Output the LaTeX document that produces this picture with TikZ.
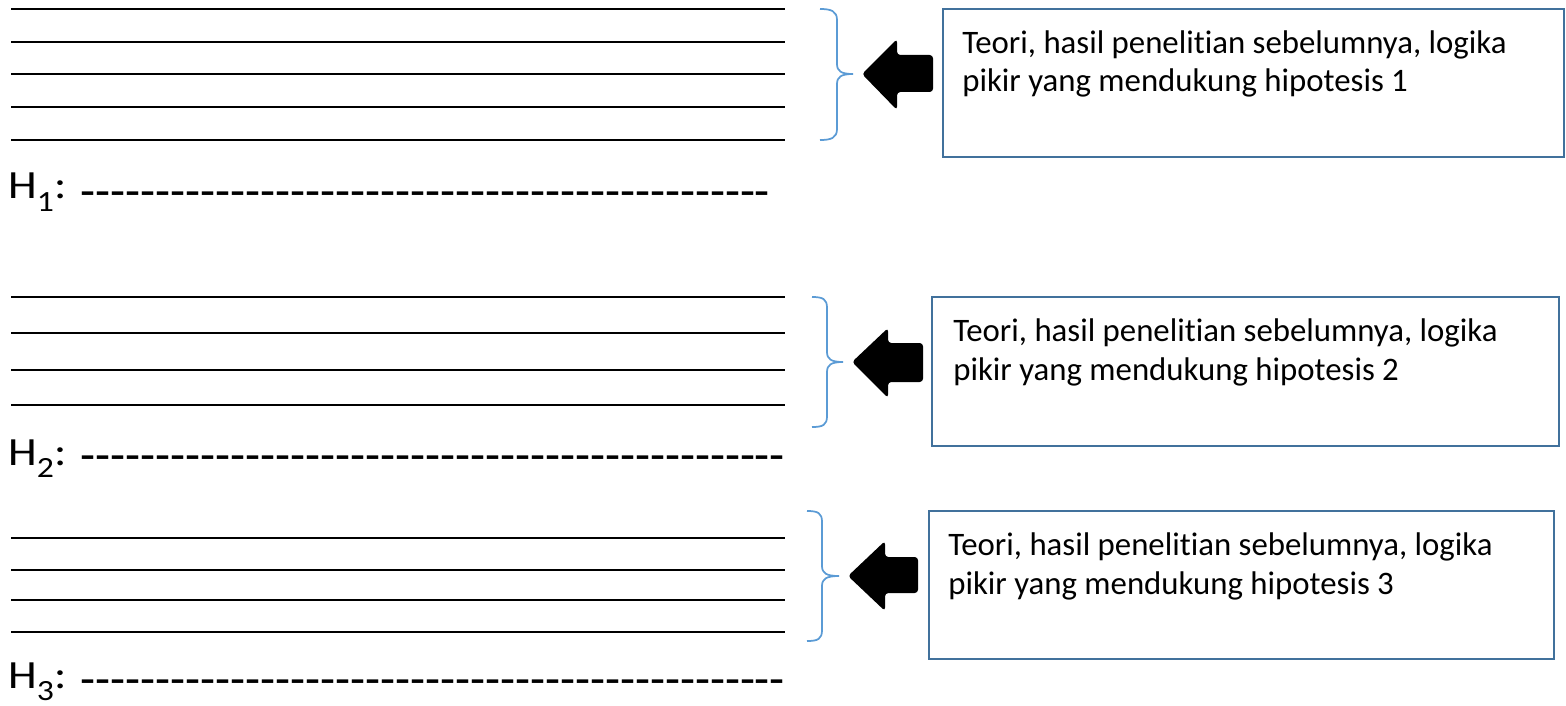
\documentclass[tikz,border=0pt]{standalone}
\usepackage{fontspec}
\setmainfont{Carlito}[Ligatures={TeX,NoCommon}]
\definecolor{bracecol}{RGB}{91,155,213}
\definecolor{boxcol}{RGB}{65,113,156}
\newcommand\hy{-\kern0pt}
\newcommand\hyten{\hy\hy\hy\hy\hy\hy\hy\hy\hy\hy}
\newcommand\hlab[1]{\scalebox{1.15}[1]{H\raisebox{-9.5pt}{\fontsize{22pt}{22pt}\selectfont #1}:}}
\begin{document}
\begin{tikzpicture}[x=0.75pt,y=-0.75pt,
  rule/.style={line width=1.2pt,black},
  bracepath/.style={line width=1.3pt,bracecol},
  boxframe/.style={line width=1.2pt,boxcol},
  blockarrow/.style={fill=black,rounded corners=2.5pt},
  boxtext/.style={anchor=base west,inner sep=0pt,align=left,font=\fontsize{24.6pt}{28.9pt}\selectfont},
  hlabel/.style={anchor=base west,inner sep=0pt,font=\fontsize{30pt}{32pt}\selectfont},
  dashtext/.style={anchor=west,inner sep=0pt,font=\fontsize{36.75pt}{40pt}\selectfont}]
\useasboundingbox (0,0) rectangle (1566,706);
% lined areas
\foreach \y in {9,42,74,107,140} \draw[rule] (11,\y) -- (785,\y);
\foreach \y in {297,333,370,405} \draw[rule] (11,\y) -- (785,\y);
\foreach \y in {538,570,600,632} \draw[rule] (11,\y) -- (785,\y);
% braces
\draw[bracepath] (820,9) .. controls (831,9) and (837,11) .. (837,20) -- (837,64) .. controls (837,71) and (841,74) .. (853,74)
  .. controls (841,74) and (837,77) .. (837,84) -- (837,129) .. controls (837,138) and (831,140) .. (820,140);
\draw[bracepath] (812,297) .. controls (823,297) and (827,299) .. (827,308) -- (827,352) .. controls (827,359) and (831,362) .. (843,362)
  .. controls (831,362) and (827,365) .. (827,372) -- (827,416) .. controls (827,425) and (823,427) .. (812,427);
\draw[bracepath] (807,511) .. controls (818,511) and (822,513) .. (822,522) -- (822,566) .. controls (822,573) and (826,576) .. (839,576)
  .. controls (826,576) and (822,579) .. (822,586) -- (822,630) .. controls (822,639) and (818,641) .. (807,641);
% block arrows
\fill[blockarrow] (862,74) -- (897,39) -- (897,55) -- (933,55) -- (933,92) -- (897,92) -- (897,110) -- cycle;
\fill[blockarrow] (852,362) -- (888,328) -- (888,343) -- (923,343) -- (923,382) -- (888,382) -- (888,398) -- cycle;
\fill[blockarrow] (848,576) -- (885,541) -- (885,557) -- (918,557) -- (918,593) -- (885,593) -- (885,611) -- cycle;
% boxes
\draw[boxframe] (943,9) rectangle (1564,157);
\draw[boxframe] (932,297) rectangle (1559,446);
\draw[boxframe] (929,511) rectangle (1554,659);
\node[boxtext] (t1) at (962,92) {Teori, hasil penelitian sebelumnya, logika\\pikir yang mendukung hipotesis 1};
\node[boxtext] (t2) at (953,380) {Teori, hasil penelitian sebelumnya, logika\\pikir yang mendukung hipotesis 2};
\node[boxtext] (t3) at (948,594) {Teori, hasil penelitian sebelumnya, logika\\pikir yang mendukung hipotesis 3};
% hypothesis labels
\node[hlabel] (h1) at (8,199) {\hlab{1}};
\node[hlabel] (h2) at (8,465) {\hlab{2}};
\node[hlabel] (h3) at (8,688) {\hlab{3}};
\node[dashtext] (d1) at (80,199.5) {\hyten\hyten\hyten\hyten\hy\hy\hy\hy\hy\hy};
\node[dashtext] (d2) at (80,463.5) {\hyten\hyten\hyten\hyten\hy\hy\hy\hy\hy\hy\hy};
\node[dashtext] (d3) at (80,687.5) {\hyten\hyten\hyten\hyten\hy\hy\hy\hy\hy\hy\hy};
\end{tikzpicture}
\end{document}
